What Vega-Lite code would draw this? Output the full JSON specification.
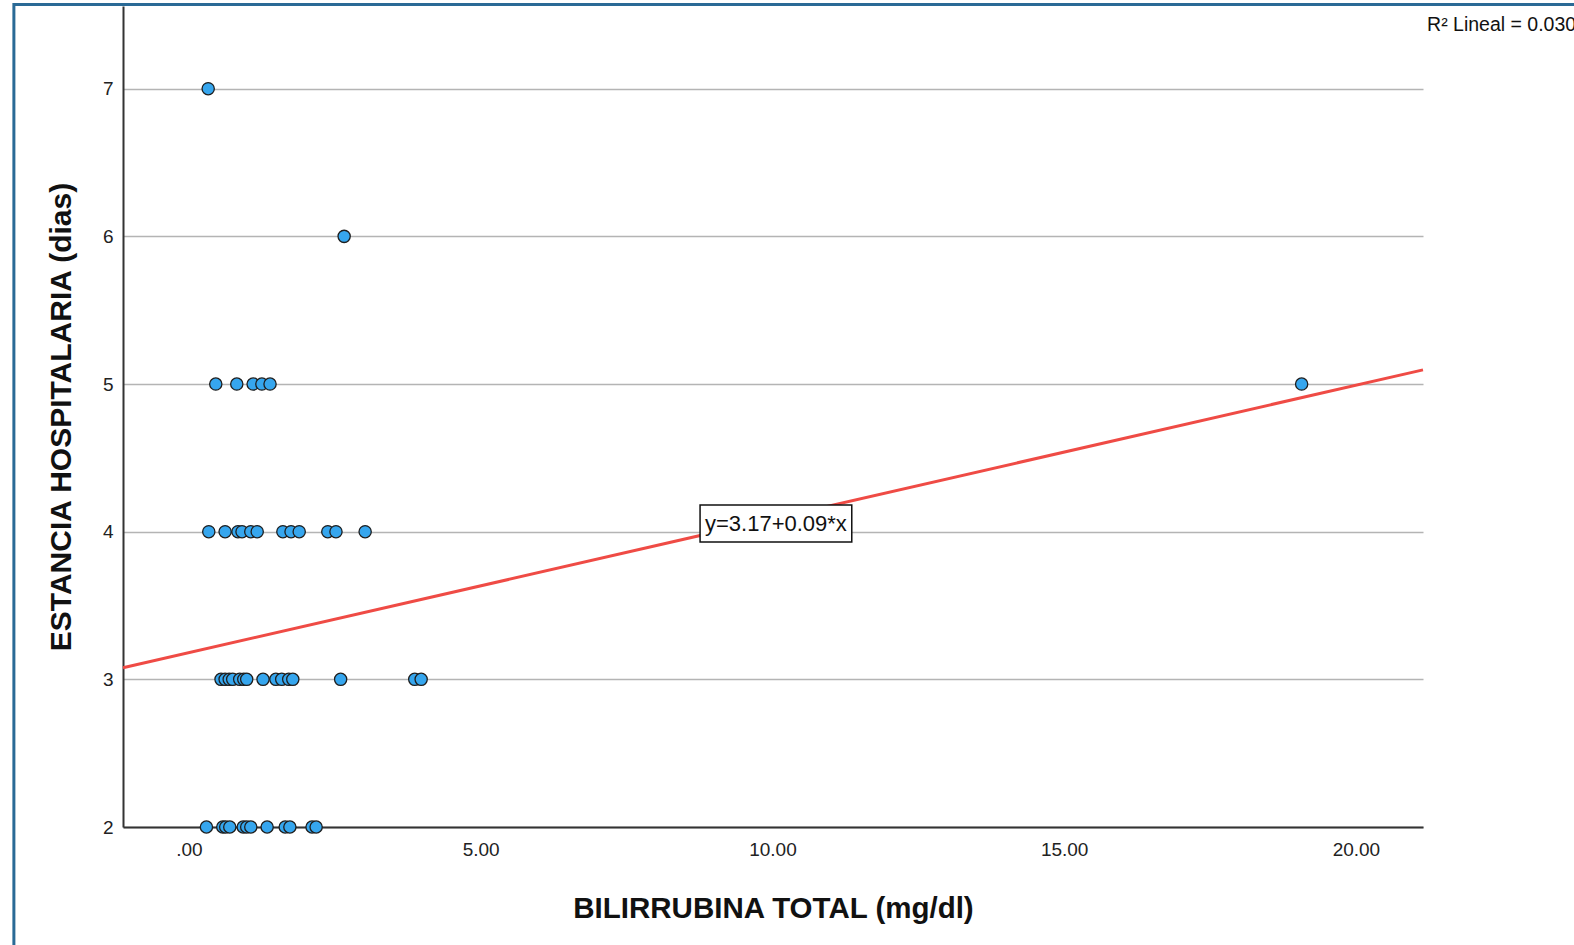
{
  "$schema": "https://vega.github.io/schema/vega-lite/v6.json",
  "width": 1300,
  "height": 821,
  "autosize": {"type": "none"},
  "padding": {"left": 123, "top": 6, "right": 151, "bottom": 118},
  "background": "white",
  "datasets": {
    "puntos": [
      {"bilirrubina": 0.30, "estancia": 2}, {"bilirrubina": 0.58, "estancia": 2},
      {"bilirrubina": 0.63, "estancia": 2}, {"bilirrubina": 0.70, "estancia": 2},
      {"bilirrubina": 0.93, "estancia": 2}, {"bilirrubina": 0.99, "estancia": 2},
      {"bilirrubina": 1.06, "estancia": 2}, {"bilirrubina": 1.34, "estancia": 2},
      {"bilirrubina": 1.65, "estancia": 2}, {"bilirrubina": 1.73, "estancia": 2},
      {"bilirrubina": 2.11, "estancia": 2}, {"bilirrubina": 2.18, "estancia": 2},
      {"bilirrubina": 0.55, "estancia": 3}, {"bilirrubina": 0.62, "estancia": 3},
      {"bilirrubina": 0.69, "estancia": 3}, {"bilirrubina": 0.75, "estancia": 3},
      {"bilirrubina": 0.87, "estancia": 3}, {"bilirrubina": 0.94, "estancia": 3},
      {"bilirrubina": 0.99, "estancia": 3}, {"bilirrubina": 1.27, "estancia": 3},
      {"bilirrubina": 1.49, "estancia": 3}, {"bilirrubina": 1.59, "estancia": 3},
      {"bilirrubina": 1.71, "estancia": 3}, {"bilirrubina": 1.78, "estancia": 3},
      {"bilirrubina": 2.60, "estancia": 3}, {"bilirrubina": 3.87, "estancia": 3},
      {"bilirrubina": 3.98, "estancia": 3},
      {"bilirrubina": 0.34, "estancia": 4}, {"bilirrubina": 0.62, "estancia": 4},
      {"bilirrubina": 0.84, "estancia": 4}, {"bilirrubina": 0.91, "estancia": 4},
      {"bilirrubina": 1.06, "estancia": 4}, {"bilirrubina": 1.17, "estancia": 4},
      {"bilirrubina": 1.61, "estancia": 4}, {"bilirrubina": 1.75, "estancia": 4},
      {"bilirrubina": 1.89, "estancia": 4}, {"bilirrubina": 2.38, "estancia": 4},
      {"bilirrubina": 2.52, "estancia": 4}, {"bilirrubina": 3.02, "estancia": 4},
      {"bilirrubina": 0.46, "estancia": 5}, {"bilirrubina": 0.82, "estancia": 5},
      {"bilirrubina": 1.10, "estancia": 5}, {"bilirrubina": 1.25, "estancia": 5},
      {"bilirrubina": 1.39, "estancia": 5}, {"bilirrubina": 19.07, "estancia": 5},
      {"bilirrubina": 2.66, "estancia": 6},
      {"bilirrubina": 0.33, "estancia": 7}
    ],
    "ajuste": [
      {"bilirrubina": -1.13, "estancia": 3.078},
      {"bilirrubina": 21.15, "estancia": 5.096}
    ]
  },
  "layer": [
    {
      "data": {"values": [{"elemento": "marco"}]},
      "mark": {"type": "rect", "fill": null, "stroke": "#2a6a96", "strokeWidth": 3, "clip": false},
      "encoding": {
        "x": {"datum": -3.0, "type": "quantitative", "scale": {"domain": [-1.13, 21.15], "nice": false, "zero": false}},
        "x2": {"datum": 26},
        "y": {"datum": 7.57, "type": "quantitative", "scale": {"domain": [2, 7.56], "nice": false, "zero": false}},
        "y2": {"datum": 1.0}
      }
    },
    {
      "data": {"name": "ajuste"},
      "mark": {"type": "line", "color": "#ef4b45", "strokeWidth": 3},
      "encoding": {
        "x": {"field": "bilirrubina", "type": "quantitative"},
        "y": {"field": "estancia", "type": "quantitative"}
      }
    },
    {
      "data": {"name": "puntos"},
      "mark": {"type": "point", "filled": true, "fill": "#36a6ee", "stroke": "#1e1e1e", "strokeWidth": 1.3, "size": 150, "opacity": 1},
      "encoding": {
        "x": {
          "field": "bilirrubina",
          "type": "quantitative",
          "axis": {
            "title": "BILIRRUBINA TOTAL (mg/dl)",
            "values": [0, 5, 10, 15, 20],
            "labelExpr": "datum.value == 0 ? '.00' : format(datum.value, '.2f')",
            "grid": false,
            "ticks": false,
            "domainColor": "#333333",
            "domainWidth": 2,
            "labelFont": "Liberation Sans",
            "labelFontSize": 19,
            "labelColor": "#222222",
            "labelPadding": 13,
            "titleFont": "Liberation Sans",
            "titleFontSize": 29.5,
            "titleFontWeight": "bold",
            "titleColor": "#111111",
            "titlePadding": 35
          }
        },
        "y": {
          "field": "estancia",
          "type": "quantitative",
          "axis": {
            "title": "ESTANCIA HOSPITALARIA (dias)",
            "values": [2, 3, 4, 5, 6, 7],
            "format": "d",
            "grid": true,
            "gridColor": "#b4b4b4",
            "gridWidth": 1.5,
            "ticks": false,
            "domainColor": "#333333",
            "domainWidth": 2,
            "labelFont": "Liberation Sans",
            "labelFontSize": 19,
            "labelColor": "#222222",
            "labelPadding": 10,
            "titleFont": "Liberation Sans",
            "titleFontSize": 30,
            "titleFontWeight": "bold",
            "titleColor": "#111111",
            "titlePadding": 26
          }
        }
      }
    },
    {
      "data": {"values": [{"texto": "y=3.17+0.09*x"}]},
      "layer": [
        {
          "mark": {"type": "rect", "fill": "white", "stroke": "#111111", "strokeWidth": 1.5},
          "encoding": {
            "x": {"datum": 8.76, "type": "quantitative"},
            "x2": {"datum": 11.36},
            "y": {"datum": 3.93, "type": "quantitative"},
            "y2": {"datum": 4.18}
          }
        },
        {
          "mark": {"type": "text", "font": "Liberation Sans", "fontSize": 22, "color": "#111111", "align": "center", "baseline": "middle"},
          "encoding": {
            "x": {"datum": 10.06, "type": "quantitative"},
            "y": {"datum": 4.055, "type": "quantitative"},
            "text": {"field": "texto"}
          }
        }
      ]
    },
    {
      "data": {"values": [{"texto": "R² Lineal = 0.030"}]},
      "mark": {"type": "text", "font": "Liberation Sans", "fontSize": 19.5, "color": "#111111", "align": "left", "baseline": "middle", "clip": false},
      "encoding": {
        "x": {"datum": 21.22, "type": "quantitative"},
        "y": {"datum": 7.43, "type": "quantitative"},
        "text": {"field": "texto"}
      }
    }
  ],
  "config": {
    "view": {"stroke": null}
  }
}
